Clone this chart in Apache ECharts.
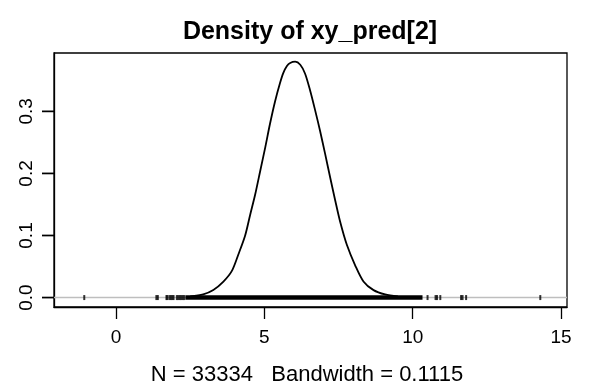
<!DOCTYPE html>
<html>
<head>
<meta charset="utf-8">
<script src="https://cdn.jsdelivr.net/npm/echarts@6/dist/echarts.min.js"></script>
<style>
html,body{margin:0;padding:0;background:#fff;}
#chart{width:589px;height:392px;}
</style>
</head>
<body>
<div id="chart"></div>
<script>
// Density curve: [x, density]
var densityX = [2.5, 2.94, 3.28, 3.62, 3.90, 4.12, 4.35, 4.52, 4.69, 4.86, 5.03, 5.19, 5.36, 5.53, 5.64, 5.76, 5.87, 6.04, 6.21, 6.37, 6.54, 6.71, 6.88, 7.05, 7.22, 7.39, 7.55, 7.78, 8.06, 8.34, 8.68, 9.07, 9.5];
var densityY = [0.0018, 0.0052, 0.0122, 0.0257, 0.0425, 0.069, 0.0995, 0.133, 0.166, 0.204, 0.242, 0.280, 0.316, 0.346, 0.362, 0.373, 0.378, 0.380, 0.375, 0.361, 0.334, 0.302, 0.268, 0.231, 0.193, 0.156, 0.123, 0.085, 0.052, 0.026, 0.012, 0.005, 0.0018];
// Rug marks (isolated observations) and the dense rug band
var rugPoints = [-1.07, 1.36, 1.41, 1.70, 1.73, 1.80, 1.85, 1.90, 1.94, 2.05, 2.10, 2.15, 2.20, 2.25, 2.30, 10.50, 10.77, 10.82, 10.93, 11.63, 11.68, 11.80, 14.30];
var rugBand = [2.34, 10.33];
var xTicks = [0, 5, 10, 15];
var yTicks = [0, 0.1, 0.2, 0.3];
var titleText = 'Density of xy_pred[2]';
var subText = 'N = 33334   Bandwidth = 0.1115';

var font = '"Liberation Sans", Arial, sans-serif';
var xMin = -2.09, xMax = 15.2;
var curve = densityX.map(function (x, i) { return [x, densityY[i]]; });
var rug = rugPoints.map(function (x) { return [x, 0]; });
var band = rugBand.map(function (x) { return [x, 0]; });

var chart = echarts.init(document.getElementById('chart'), null, {renderer: 'canvas'});
chart.setOption({
  animation: false,
  title: [
    {text: titleText, left: 305, top: 15, textAlign: 'center',
     textStyle: {fontFamily: font, fontSize: 25, fontWeight: 'bold', color: '#000'}},
    {text: subText, left: 302, top: 359, textAlign: 'center',
     textStyle: {fontFamily: font, fontSize: 22, fontWeight: 'normal', color: '#000'}}
  ],
  grid: {left: 54, right: 22, top: 53, bottom: 85, show: true, borderColor: '#000', borderWidth: 1.3},
  xAxis: {
    type: 'value', min: xMin, max: xMax,
    axisLine: {show: true, onZero: false, lineStyle: {color: '#000', width: 1.3}},
    splitLine: {show: false},
    axisTick: {show: true, inside: false, length: 12, lineStyle: {color: '#000', width: 1.3}, customValues: xTicks},
    axisLabel: {show: true, margin: 21, fontFamily: font, fontSize: 19, color: '#000', customValues: xTicks,
      formatter: function (v) { return String(v); }}
  },
  yAxis: {
    type: 'value', min: -0.0152, max: 0.394,
    axisLine: {show: true, onZero: false, lineStyle: {color: '#000', width: 1.3}},
    splitLine: {show: false},
    axisTick: {show: true, length: 12, lineStyle: {color: '#000', width: 1.3}, customValues: yTicks},
    axisLabel: {show: true, rotate: 90, margin: 18, fontFamily: font, fontSize: 19, color: '#000', customValues: yTicks,
      formatter: function (v) { return v.toFixed(1); }}
  },
  series: [
    {type: 'line', data: curve, symbol: 'none', smooth: 0.3, z: 2,
     lineStyle: {color: '#000', width: 1.8}},
    {type: 'line', data: [[xMin, 0], [xMax, 0]], symbol: 'none', z: 3,
     lineStyle: {color: '#bebebe', width: 1.5}},
    {type: 'line', data: band, symbol: 'none', z: 4,
     lineStyle: {color: '#000', width: 4.5}},
    {type: 'scatter', data: rug, symbol: 'rect', symbolSize: [2, 5], z: 4,
     itemStyle: {color: '#000'}}
  ]
});
// y-axis tick marks outside the box, positioned through the chart's own y scale,
// drawn on their own top layer as thin filled rectangles
var tickEls = yTicks.map(function (v) {
  var p = chart.convertToPixel({gridIndex: 0}, [xMin, v]);
  return {type: 'rect', zlevel: 1, z: 100,
          shape: {x: p[0] - 12, y: p[1] - 0.75, width: 12, height: 1.5},
          style: {fill: '#000'}};
});
chart.setOption({graphic: {elements: tickEls}});
</script>
</body>
</html>
